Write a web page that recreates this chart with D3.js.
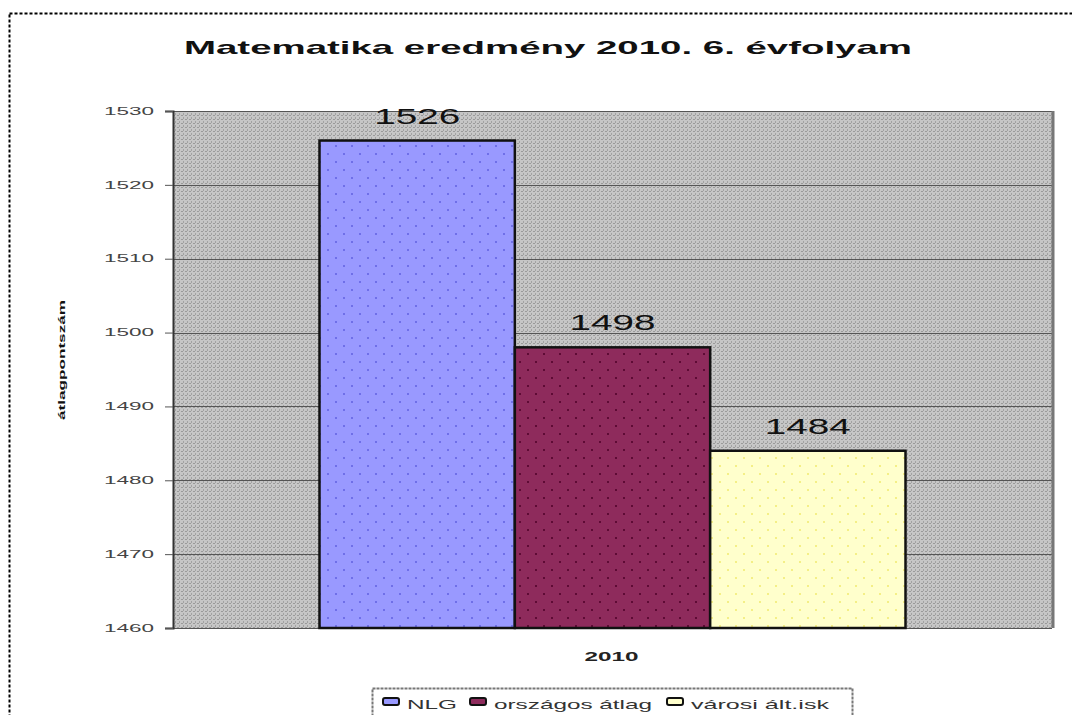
<!DOCTYPE html>
<html>
<head>
<meta charset="utf-8">
<script src="https://cdn.jsdelivr.net/npm/d3@7"></script>
<style>
    body { margin: 0; background: #fff; }
    svg { display: block; font-family: Arial, "Liberation Sans", sans-serif; }
</style>
</head>
<body>
<div id="chart"></div>
<script>
// chart data
const categories = ['2010'];
const seriesNames = ['NLG', 'országos átlag', 'városi ált.isk'];
const seriesValues = [1526, 1498, 1484];
const yTicks = [1460, 1470, 1480, 1490, 1500, 1510, 1520, 1530];

const colors = ['#9999ff', '#8e2b5c', '#ffffcc'];
const dotColors = ['#6f6fe8', '#5e0b35', '#f4ef86'];

const width = 1072, height = 715;
const margin = {top: 111, right: 20, bottom: 87, left: 173};
const plotW = width - margin.left - margin.right;
const plotH = height - margin.top - margin.bottom;

// the source picture is stretched sideways, so texts get a fixed width
const stretch = (sel, w, mode) => sel.attr('textLength', w).attr('lengthAdjust', mode || 'spacingAndGlyphs');

const svg = d3.select('#chart').append('svg')
    .attr('width', width)
    .attr('height', height);

// patterns
const defs = svg.append('defs');
const bgPat = defs.append('pattern')
    .attr('id', 'bgpat')
    .attr('patternUnits', 'userSpaceOnUse')
    .attr('width', 4).attr('height', 4);
bgPat.append('rect').attr('width', 4).attr('height', 4).attr('fill', '#c6c6c6');
bgPat.append('rect').attr('x', 0).attr('y', 0).attr('width', 2).attr('height', 1).attr('fill', '#9a9a9a');
bgPat.append('rect').attr('x', 2).attr('y', 2).attr('width', 1).attr('height', 2).attr('fill', '#a2a2a2');

colors.forEach((c, i) => {
    const p = defs.append('pattern')
        .attr('id', 'barpat' + i)
        .attr('patternUnits', 'userSpaceOnUse')
        .attr('width', 16).attr('height', 16);
    p.append('rect').attr('width', 16).attr('height', 16).attr('fill', c);
    p.append('rect').attr('x', 2).attr('y', 2).attr('width', 2).attr('height', 2).attr('fill', dotColors[i]);
    p.append('rect').attr('x', 10).attr('y', 10).attr('width', 2).attr('height', 2).attr('fill', dotColors[i]);
});

// outer dashed border
svg.append('rect')
    .attr('x', 9.5).attr('y', 13.5)
    .attr('width', width + 20).attr('height', height + 20)
    .attr('fill', 'none')
    .attr('stroke', '#000')
    .attr('stroke-width', 2)
    .attr('stroke-dasharray', '3,2');

// title
svg.append('text')
    .attr('x', 548).attr('y', 54)
    .attr('text-anchor', 'middle')
    .style('font-size', '19px')
    .style('font-weight', 'bold')
    .attr('fill', '#111')
    .text('Matematika eredmény 2010. 6. évfolyam')
    .call(stretch, 728);

const g = svg.append('g')
    .attr('transform', `translate(${margin.left}, ${margin.top})`);

const y = d3.scaleLinear()
    .domain([d3.min(yTicks), d3.max(yTicks)])
    .range([plotH, 0]);

const x0 = d3.scaleBand()
    .domain(categories)
    .range([0, plotW])
    .paddingInner(0)
    .paddingOuter(0.25);

const x1 = d3.scaleBand()
    .domain(seriesNames)
    .range([0, x0.bandwidth()])
    .padding(0);

// plot background
g.append('rect')
    .attr('width', plotW).attr('height', plotH)
    .attr('fill', 'url(#bgpat)');

// gridlines
g.append('g')
    .selectAll('line')
    .data(yTicks)
    .join('line')
    .attr('x1', 0).attr('x2', plotW)
    .attr('y1', d => Math.round(y(d)) + 0.5)
    .attr('y2', d => Math.round(y(d)) + 0.5)
    .attr('stroke', '#555')
    .attr('stroke-width', 1.2);

// right edge of plot
g.append('line')
    .attr('x1', plotW + 1).attr('x2', plotW + 1)
    .attr('y1', 0).attr('y2', plotH)
    .attr('stroke', '#777').attr('stroke-width', 3);

// y axis
const yAxis = g.append('g')
    .call(d3.axisLeft(y).tickValues(yTicks).tickSize(8).tickPadding(11).tickFormat(d3.format('d')));
yAxis.select('.domain').attr('stroke', '#333').attr('stroke-width', 2);
yAxis.selectAll('.tick line').attr('stroke', '#555');
yAxis.selectAll('text')
    .style('font-size', '10px')
    .attr('fill', '#444')
    .call(stretch, 50);

// bars
const barData = seriesNames.map((name, i) => ({name, value: seriesValues[i], cat: categories[0], i}));
g.selectAll('rect.bar')
    .data(barData)
    .join('rect')
    .attr('class', 'bar')
    .attr('x', d => x0(d.cat) + x1(d.name))
    .attr('y', d => y(d.value))
    .attr('width', x1.bandwidth())
    .attr('height', d => plotH - y(d.value))
    .attr('fill', d => `url(#barpat${d.i})`)
    .attr('stroke', '#111')
    .attr('stroke-width', 2.5);

// value labels
g.selectAll('text.val')
    .data(barData)
    .join('text')
    .attr('class', 'val')
    .attr('x', d => x0(d.cat) + x1(d.name) + x1.bandwidth() / 2)
    .attr('y', d => y(d.value) - 17)
    .attr('text-anchor', 'middle')
    .style('font-size', '22px')
    .attr('fill', '#111')
    .text(d => d.value)
    .call(stretch, 86);

// x category label
g.append('text')
    .attr('x', x0(categories[0]) + x0.bandwidth() / 2 - 1)
    .attr('y', plotH + 33)
    .attr('text-anchor', 'middle')
    .style('font-size', '12px')
    .style('font-weight', 'bold')
    .attr('fill', '#222')
    .text(categories[0])
    .call(stretch, 54);

// y axis title
svg.append('text')
    .attr('transform', 'translate(65, 360) rotate(-90)')
    .attr('text-anchor', 'middle')
    .style('font-size', '9px')
    .style('font-weight', 'bold')
    .attr('fill', '#111')
    .text('átlagpontszám')
    .call(stretch, 120);

// legend
const legend = svg.append('g').attr('transform', 'translate(372, 688)');
legend.append('rect')
    .attr('x', 0.5).attr('y', 0.5)
    .attr('width', 480).attr('height', 40)
    .attr('fill', '#fff')
    .attr('stroke', '#777')
    .attr('stroke-width', 2)
    .attr('stroke-dasharray', '3,1');

const legendX = [11, 98, 295];
const legendW = [50, 158, 138];
const items = legend.selectAll('g.item')
    .data(seriesNames)
    .join('g')
    .attr('class', 'item')
    .attr('transform', (d, i) => `translate(${legendX[i]}, 0)`);
items.append('rect')
    .attr('x', 0).attr('y', 10)
    .attr('width', 16).attr('height', 7)
    .attr('rx', 2)
    .attr('fill', (d, i) => colors[i])
    .attr('stroke', '#111')
    .attr('stroke-width', 2);
items.append('text')
    .attr('x', 24).attr('y', 21)
    .style('font-size', '13px')
    .attr('fill', '#333')
    .text(d => d)
    .each(function(d, i) { d3.select(this).call(stretch, legendW[i]); });
</script>
</body>
</html>
